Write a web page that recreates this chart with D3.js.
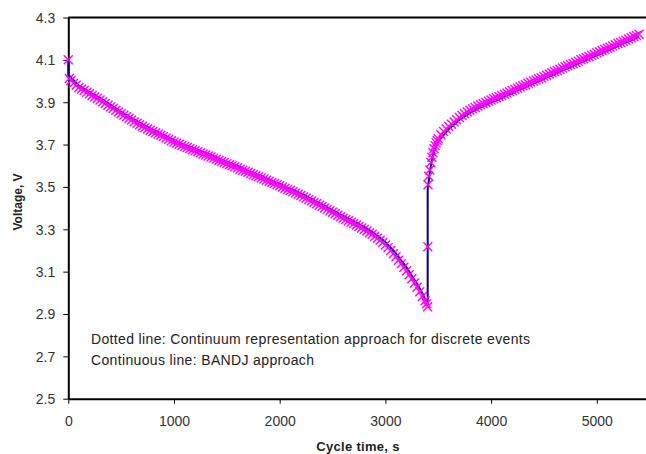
<!DOCTYPE html>
<html>
<head>
<meta charset="utf-8">
<script src="https://cdn.jsdelivr.net/npm/d3@7"></script>
<style>
  body { margin: 0; background: #fff; }
  svg { display: block; font-family: Arial, "Liberation Sans", sans-serif; }
</style>
</head>
<body>
<svg id="chart" width="646" height="454"></svg>
<script>
// continuum representation (markers), [time s, voltage V]
const contDischarge = [[0, 4.100], [10, 4.012], [25, 4.002], [50, 3.990], [75, 3.980], [100, 3.970], [125, 3.962], [150, 3.955],
  [175, 3.947], [200, 3.940], [225, 3.932], [250, 3.925], [275, 3.917], [300, 3.910], [325, 3.902], [350, 3.894], [375, 3.886],
  [400, 3.878], [425, 3.870], [450, 3.862], [475, 3.854], [500, 3.846], [525, 3.838], [550, 3.831], [575, 3.823], [600, 3.816],
  [625, 3.808], [650, 3.801], [675, 3.794], [700, 3.787], [725, 3.780], [750, 3.774], [775, 3.768], [800, 3.762], [825, 3.756],
  [850, 3.750], [875, 3.744], [900, 3.738], [925, 3.731], [950, 3.725], [975, 3.718], [1000, 3.712], [1025, 3.706], [1050, 3.701],
  [1075, 3.696], [1100, 3.691], [1125, 3.686], [1150, 3.681], [1175, 3.676], [1200, 3.671], [1225, 3.666], [1250, 3.661],
  [1275, 3.656], [1300, 3.651], [1325, 3.646], [1350, 3.641], [1375, 3.636], [1400, 3.631], [1425, 3.625], [1450, 3.620],
  [1475, 3.615], [1500, 3.610], [1525, 3.605], [1550, 3.600], [1575, 3.595], [1600, 3.590], [1625, 3.584], [1650, 3.579],
  [1675, 3.574], [1700, 3.569], [1725, 3.563], [1750, 3.558], [1775, 3.553], [1800, 3.548], [1825, 3.542], [1850, 3.537],
  [1875, 3.532], [1900, 3.527], [1925, 3.521], [1950, 3.516], [1975, 3.510], [2000, 3.505], [2025, 3.499], [2050, 3.494],
  [2075, 3.488], [2100, 3.483], [2125, 3.477], [2150, 3.471], [2175, 3.465], [2200, 3.459], [2225, 3.453], [2250, 3.447],
  [2275, 3.440], [2300, 3.434], [2325, 3.427], [2350, 3.421], [2375, 3.414], [2400, 3.408], [2425, 3.401], [2450, 3.394],
  [2475, 3.387], [2500, 3.380], [2525, 3.373], [2550, 3.366], [2575, 3.359], [2600, 3.352], [2625, 3.346], [2650, 3.340],
  [2675, 3.333], [2700, 3.327], [2725, 3.320], [2750, 3.313], [2775, 3.306], [2800, 3.299], [2825, 3.292], [2850, 3.284],
  [2875, 3.276], [2900, 3.267], [2925, 3.258], [2950, 3.248], [2975, 3.237], [3000, 3.226], [3025, 3.213], [3050, 3.200],
  [3075, 3.185], [3100, 3.170], [3125, 3.154], [3150, 3.137], [3175, 3.121], [3200, 3.104], [3225, 3.085], [3250, 3.066],
  [3275, 3.046], [3300, 3.026], [3325, 3.005], [3350, 2.983], [3375, 2.962], [3390, 2.948], [3400, 2.934]];

const contCharge = [[3401, 3.217], [3403, 3.510], [3410, 3.550], [3420, 3.580], [3430, 3.615], [3440, 3.640], [3450, 3.661],
  [3460, 3.680], [3470, 3.695], [3480, 3.708], [3490, 3.719], [3500, 3.728], [3525, 3.746], [3550, 3.762], [3575, 3.774],
  [3600, 3.785], [3625, 3.796], [3650, 3.806], [3675, 3.817], [3700, 3.828], [3725, 3.837], [3750, 3.846], [3775, 3.854],
  [3800, 3.862], [3825, 3.869], [3850, 3.875], [3875, 3.882], [3900, 3.888], [3925, 3.894], [3950, 3.899], [3975, 3.905],
  [4000, 3.910], [4025, 3.916], [4050, 3.921], [4075, 3.927], [4100, 3.932], [4125, 3.938], [4150, 3.943], [4175, 3.949],
  [4200, 3.955], [4225, 3.960], [4250, 3.966], [4275, 3.972], [4300, 3.978], [4325, 3.983], [4350, 3.989], [4375, 3.994],
  [4400, 4.000], [4425, 4.005], [4450, 4.011], [4475, 4.016], [4500, 4.022], [4525, 4.027], [4550, 4.033], [4575, 4.039],
  [4600, 4.045], [4625, 4.050], [4650, 4.056], [4675, 4.061], [4700, 4.067], [4725, 4.072], [4750, 4.078], [4775, 4.083],
  [4800, 4.089], [4825, 4.094], [4850, 4.100], [4875, 4.105], [4900, 4.111], [4925, 4.116], [4950, 4.122], [4975, 4.127],
  [5000, 4.133], [5025, 4.138], [5050, 4.144], [5075, 4.149], [5100, 4.155], [5125, 4.160], [5150, 4.166], [5175, 4.171],
  [5200, 4.177], [5225, 4.182], [5250, 4.188], [5275, 4.193], [5300, 4.199], [5325, 4.204], [5350, 4.210], [5375, 4.215],
  [5400, 4.221]];

// BANDJ approach (line), [time s, voltage V]
const bandj = [[0, 4.100], [0, 4.030], [100, 3.978], [200, 3.949], [300, 3.919], [400, 3.887], [500, 3.855], [600, 3.825],
  [700, 3.796], [800, 3.771], [900, 3.747], [1000, 3.721], [1100, 3.700], [1200, 3.680], [1300, 3.660], [1400, 3.640],
  [1500, 3.619], [1600, 3.599], [1700, 3.578], [1800, 3.557], [1900, 3.536], [2000, 3.514], [2100, 3.492], [2200, 3.469],
  [2300, 3.444], [2400, 3.418], [2500, 3.391], [2600, 3.363], [2700, 3.338], [2800, 3.311], [2900, 3.280], [3000, 3.240],
  [3100, 3.186], [3200, 3.120], [3300, 3.042], [3350, 2.998], [3400, 2.940], [3400, 3.490], [3420, 3.568], [3440, 3.628],
  [3470, 3.683], [3500, 3.716], [3600, 3.773], [3700, 3.816], [3800, 3.850], [3900, 3.876], [4000, 3.898], [4100, 3.920],
  [4200, 3.943], [4300, 3.966], [4400, 3.988], [4500, 4.010], [4600, 4.033], [4700, 4.055], [4800, 4.077], [4900, 4.099],
  [5000, 4.121], [5100, 4.143], [5200, 4.165], [5300, 4.187], [5400, 4.209]];

const xTicks = [0, 1000, 2000, 3000, 4000, 5000];
const yTicks = [2.5, 2.7, 2.9, 3.1, 3.3, 3.5, 3.7, 3.9, 4.1, 4.3];
const notes = ["Dotted line: Continuum representation approach for discrete events",
  "Continuous line: BANDJ approach"];

const svg = d3.select("#chart");
const plotLeft = 68.3, plotTop = 17.5, plotBottom = 398.7;

const x = d3.scaleLinear().domain([0, 5500]).range([plotLeft, plotLeft + 5500 * 0.1057]);
const y = d3.scaleLinear().domain([2.5, 4.3]).range([plotBottom, plotTop]);

// frame
svg.append("line").attr("x1", plotLeft).attr("x2", 660).attr("y1", plotTop).attr("y2", plotTop)
  .attr("stroke", "#000").attr("stroke-width", 2);

const xAxis = svg.append("g")
  .attr("transform", `translate(0,${plotBottom})`)
  .call(d3.axisBottom(x).tickValues(xTicks).tickFormat(d3.format("d")).tickSize(5).tickSizeOuter(0));
const yAxis = svg.append("g")
  .attr("transform", `translate(${plotLeft},0)`)
  .call(d3.axisLeft(y).tickValues(yTicks).tickFormat(d3.format(".1f")).tickSize(5).tickSizeOuter(0));

[xAxis, yAxis].forEach((g) => {
  g.select(".domain").attr("stroke", "#000").attr("stroke-width", 2);
  g.selectAll(".tick line").attr("stroke", "#000").attr("stroke-width", 1);
  g.selectAll(".tick text").attr("fill", "#333").style("font-size", "14px")
    .style("font-family", "Arial, 'Liberation Sans', sans-serif");
});
xAxis.selectAll(".tick text").attr("dy", 0).attr("y", 27);
yAxis.selectAll(".tick text").attr("x", -13).attr("dy", "0.35em");

// BANDJ line
const line = d3.line().x((d) => x(d[0])).y((d) => y(d[1]));
svg.append("path").datum(bandj)
  .attr("d", line)
  .attr("fill", "none")
  .attr("stroke", "#000080")
  .attr("stroke-width", 2);

// continuum markers
const m = 4.5;
svg.append("g").selectAll("path")
  .data(contDischarge.concat(contCharge))
  .join("path")
  .attr("transform", (d) => `translate(${x(d[0])},${y(d[1])})`)
  .attr("d", `M${-m},${-m}L${m},${m}M${-m},${m}L${m},${-m}`)
  .attr("stroke", "#ff00ff")
  .attr("stroke-width", 1.4)
  .attr("fill", "none");

// notes
svg.append("g").selectAll("text")
  .data(notes)
  .join("text")
  .attr("x", 91)
  .attr("y", (d, i) => 344 + i * 21)
  .attr("fill", "#222")
  .style("font-size", "14px")
  .style("letter-spacing", "0.35px")
  .text((d) => d);

// axis labels
svg.append("text")
  .attr("x", 358).attr("y", 451)
  .attr("text-anchor", "middle")
  .style("font-size", "13px").style("font-weight", "bold")
  .style("letter-spacing", "0.3px")
  .attr("fill", "#222")
  .text("Cycle time, s");

svg.append("text")
  .attr("transform", "translate(22,202) rotate(-90)")
  .attr("text-anchor", "middle")
  .style("font-size", "12px").style("font-weight", "bold")
  .attr("fill", "#222")
  .text("Voltage, V");
</script>
</body>
</html>
